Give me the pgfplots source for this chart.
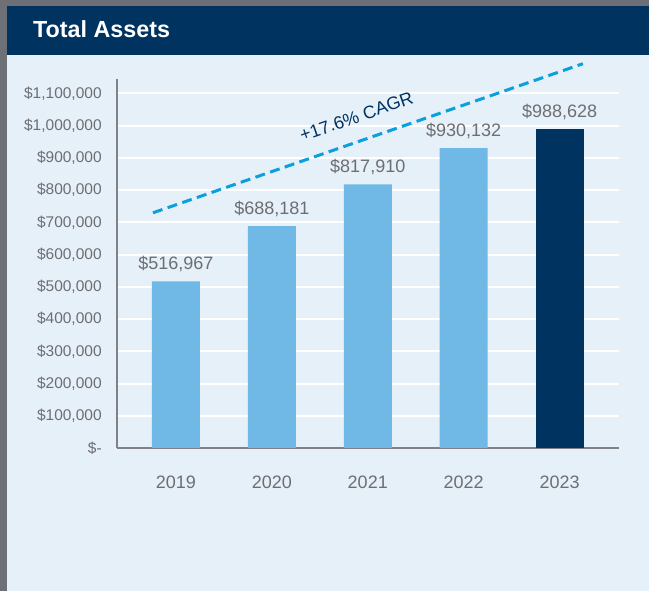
\documentclass[border=0pt]{standalone}
\usepackage{pgfplots}
\pgfplotsset{compat=1.18}
\usepackage{fontspec}
\setmainfont{Liberation Sans}
\definecolor{bggray}{HTML}{6E7077}
\definecolor{bgblue}{HTML}{E6F0F9}
\definecolor{navy}{HTML}{003360}
\definecolor{lblue}{HTML}{70B8E6}
\definecolor{txtgray}{HTML}{6D6E71}
\definecolor{axgray}{HTML}{808285}
\definecolor{cagr}{HTML}{0A9FDD}
\begin{document}
\begin{tikzpicture}[x=1pt,y=1pt]
\path[use as bounding box] (0,0) rectangle (649,591);
\fill[bggray] (0,0) rectangle (649,591);
\fill[bgblue] (7,0) rectangle (649,585);
\fill[navy] (7,536) rectangle (649,585);
\node[anchor=base west, text=white, font=\fontsize{23.3}{27}\selectfont\bfseries, inner sep=0pt] at (33,553) {Total Assets};
\begin{axis}[
  at={(117pt,143pt)}, anchor=south west,
  scale only axis, width=502pt, height=369pt,
  xmin=-0.615, xmax=4.62, ymin=0, ymax=1145000,
  axis x line=bottom, axis y line=left,
  axis line style={axgray, line width=2pt, -},
  tick style={draw=none},
  scaled y ticks=false,
  ytick={0,100000,200000,300000,400000,500000,600000,700000,800000,900000,1000000,1100000},
  yticklabels={{\$-},{\$100,000},{\$200,000},{\$300,000},{\$400,000},{\$500,000},{\$600,000},{\$700,000},{\$800,000},{\$900,000},{\$1,000,000},{\$1,100,000}},
  xtick={0,1,2,3,4},
  xticklabels={2019,2020,2021,2022,2023},
  yticklabel style={font=\fontsize{15.5}{18}\selectfont, text=txtgray, anchor=east, inner sep=0pt, xshift=-13pt},
  xticklabel style={font=\fontsize{18}{21}\selectfont, text=txtgray, anchor=north, inner sep=0pt, yshift=-26pt},
  ymajorgrids, grid style={white, line width=2pt},
  clip=false,
  nodes near coords={\$\pgfmathprintnumber[fixed,precision=0,1000 sep={,},assume math mode=true]{\pgfplotspointmeta}},
  every node near coord/.append style={font=\fontsize{18}{21}\selectfont, text=txtgray, anchor=base, inner sep=0pt, yshift=12pt},
]
\addplot[ybar, bar width=48pt, bar shift=0pt, fill=lblue, draw=none, point meta=y] coordinates {(0,516967) (1,688181) (2,817910) (3,930132)};
\addplot[ybar, bar width=48pt, bar shift=0pt, fill=navy, draw=none, point meta=y] coordinates {(4,988628)};
\addplot[cagr, line width=3pt, dash pattern=on 10pt off 5.5pt, forget plot, nodes near coords=] coordinates {(-0.24,729800) (4.244,1192500)};
\node[rotate=19.1, text=navy, font=\fontsize{18}{21}\selectfont, inner sep=0pt] at (axis cs:1.882,1028000) {+17.6\% CAGR};
\end{axis}
\end{tikzpicture}
\end{document}
